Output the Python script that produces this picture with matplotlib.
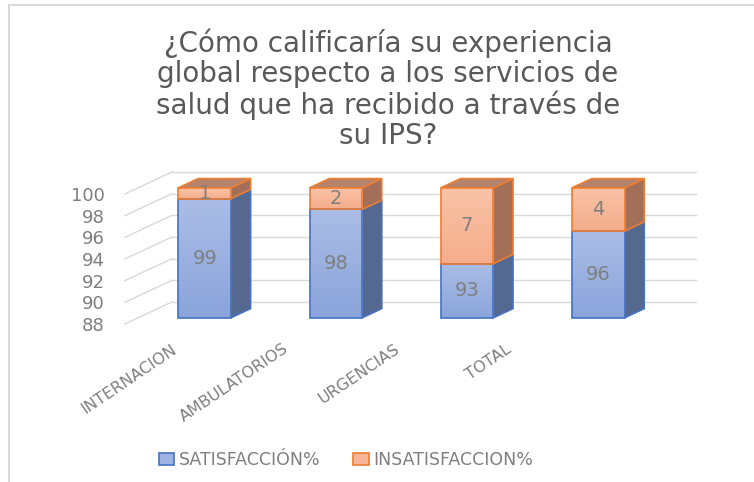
import numpy as np
import matplotlib.pyplot as plt
from matplotlib.patches import Polygon, Patch
from matplotlib.lines import Line2D
from matplotlib.colors import LinearSegmentedColormap

categories = ['INTERNACION', 'AMBULATORIOS', 'URGENCIAS', 'TOTAL']
satisfaccion = [99, 98, 93, 96]
insatisfaccion = [1, 2, 7, 4]
y_ticks = [88, 90, 92, 94, 96, 98, 100]
title = '¿Cómo calificaría su experiencia\nglobal respecto a los servicios de\nsalud que ha recibido a través de\nsu IPS?'

# fake 3d settings (data units)
DX, DY = 0.358, 2.03      # full depth of the floor
D0, D1 = 0.28, 0.70       # bar front / back depth fraction
W = 0.40
BASE = 88
GRID = '#d9d9d9'
TXT = '#7f7f7f'
FONT = 'DejaVu Sans'

blue = dict(front_top='#abbde6', front_bot='#8aa4db', side='#55688f', top='#6f82ad', edge='#4472c4')
orange = dict(front_top='#f9c3a7', front_bot='#f5ad8b', side='#a36f58', top='#b5836b', edge='#ed7d31')

fig = plt.figure(figsize=(7.54, 4.82), dpi=100)
ax = fig.add_axes([110 / 754, 142 / 482, 610 / 754, 190 / 482])
ax.set_xlim(-0.621, 4.028)
ax.set_ylim(86.52, 104.06)
for s in ax.spines.values():
    s.set_visible(False)
ax.set_xticks([])
ax.set_yticks(y_ticks)
ax.set_yticklabels([str(v) for v in y_ticks], fontsize=13, color=TXT, family=FONT)
ax.tick_params(axis='y', length=0, pad=4)

x0, x1 = -0.507, 3.487
for v in y_ticks:
    ax.plot([x0, x0 + DX], [v, v + DY], color=GRID, lw=1, zorder=1)
    ax.plot([x0 + DX, x1 + DX], [v + DY, v + DY], color=GRID, lw=1, zorder=1)


def gradient_fill(bar, c_top, c_bot):
    xa, ya = bar.get_xy()
    w, h = bar.get_width(), bar.get_height()
    grad = np.linspace(0, 1, 64).reshape(-1, 1)
    cmap = LinearSegmentedColormap.from_list('g', [c_top, c_bot])
    im = ax.imshow(grad, extent=[xa, xa + w, ya, ya + h], origin='upper', cmap=cmap,
                   aspect='auto', zorder=bar.get_zorder() - 0.01)
    im.set_clip_path(bar)


def segment(i, lo, hi, col, draw_top):
    xl = i - W / 2
    xr = i + W / 2
    side = [(xr + D0 * DX, lo + D0 * DY), (xr + D1 * DX, lo + D1 * DY),
            (xr + D1 * DX, hi + D1 * DY), (xr + D0 * DX, hi + D0 * DY)]
    ax.add_patch(Polygon(side, closed=True, facecolor=col['side'], edgecolor=col['edge'],
                         lw=1.2, zorder=3))
    if draw_top:
        top = [(xl + D0 * DX, hi + D0 * DY), (xr + D0 * DX, hi + D0 * DY),
               (xr + D1 * DX, hi + D1 * DY), (xl + D1 * DX, hi + D1 * DY)]
        ax.add_patch(Polygon(top, closed=True, facecolor=col['top'], edgecolor=col['edge'],
                             lw=1.2, zorder=3))


xs = np.arange(len(categories))
bars_s = ax.bar(xs + D0 * DX, [s - BASE for s in satisfaccion], W, bottom=BASE + D0 * DY,
                facecolor='none', edgecolor=blue['edge'], lw=1.2, zorder=4)
bars_i = ax.bar(xs + D0 * DX, insatisfaccion, W, bottom=[s + D0 * DY for s in satisfaccion],
                facecolor='none', edgecolor=orange['edge'], lw=1.2, zorder=4)

for i in xs:
    segment(i, BASE, satisfaccion[i], blue, False)
    segment(i, satisfaccion[i], satisfaccion[i] + insatisfaccion[i], orange, True)
    gradient_fill(bars_s[i], blue['front_top'], blue['front_bot'])
    gradient_fill(bars_i[i], orange['front_top'], orange['front_bot'])
    ax.text(i + D0 * DX, (BASE + satisfaccion[i]) / 2 + D0 * DY, str(satisfaccion[i]),
            ha='center', va='center', fontsize=14, color=TXT, family=FONT, zorder=6)
    ax.text(i + D0 * DX, satisfaccion[i] + insatisfaccion[i] / 2 + D0 * DY, str(insatisfaccion[i]),
            ha='center', va='center', fontsize=14, color=TXT, family=FONT, zorder=6)
    # category labels follow the floor perspective
    ax.text(i * 0.85 - 0.09, 86.4, categories[i], rotation=34, ha='right', va='top',
            fontsize=11.5, color=TXT, family=FONT)

fig.text(388 / 754, 1 - 28 / 482, title, ha='center', va='top', fontsize=20,
         color='#595959', family=FONT, linespacing=1.1)

handles = [Patch(facecolor='#9fb3e3', edgecolor=blue['edge'], lw=1.2),
           Patch(facecolor='#f7b597', edgecolor=orange['edge'], lw=1.2)]
leg = fig.legend(handles, ['SATISFACCIÓN%', 'INSATISFACCION%'], loc='center',
                 bbox_to_anchor=(346 / 754, 22 / 482), ncol=2, frameon=False,
                 handlelength=0.9, handleheight=0.7, handletextpad=0.25, columnspacing=1.9,
                 prop={'family': FONT, 'size': 12.5})
for t in leg.get_texts():
    t.set_color(TXT)

fig.add_artist(Line2D([9 / 754, 9 / 754], [0, 1 - 5 / 482], color=GRID, lw=1.5))
fig.add_artist(Line2D([9 / 754, 1], [1 - 5 / 482, 1 - 5 / 482], color=GRID, lw=1.5))

fig.savefig('out.png', dpi=100)
